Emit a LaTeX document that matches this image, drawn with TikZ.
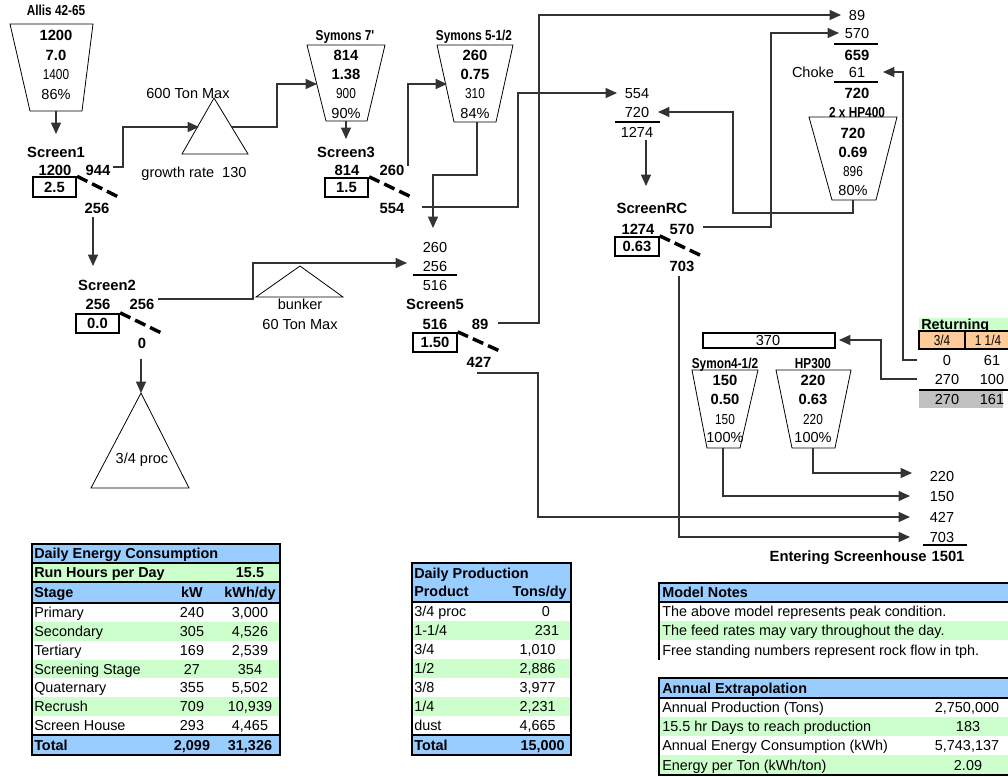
\documentclass[tikz,border=0pt]{standalone}
\usepackage{fontspec}
\setmainfont{Liberation Sans}
\newfontfamily\narrowf[FakeStretch=0.82]{Liberation Sans}
\usetikzlibrary{arrows.meta}
\definecolor{xblue}{RGB}{153,204,255}
\definecolor{xgreen}{RGB}{204,255,204}
\definecolor{xorange}{RGB}{255,204,153}
\definecolor{xgray}{RGB}{192,192,192}
\tikzset{
  t/.style={inner sep=0pt, text height=7.8pt, text depth=0pt, font=\fontsize{10.9}{12}\selectfont},
  tb/.style={t, font=\fontsize{11.1}{12}\selectfont\bfseries},
  tn/.style={t, font=\fontsize{10.8}{12}\selectfont\narrowf},
  tnb/.style={t, font=\fontsize{10.8}{12}\selectfont\narrowf\bfseries},
  tt/.style={inner sep=0pt, text height=7.7pt, text depth=0pt, font=\fontsize{10.8}{12}\selectfont},
  ttb/.style={tt, font=\fontsize{10.8}{12}\selectfont\bfseries},
  trap/.style={draw=black, line width=0.6pt},
  conn/.style={draw=black!80, line width=0.8pt},
  arr/.style={conn, -{Triangle[length=8.5pt,width=7.5pt]}},
  sbox/.style={draw=black, line width=1.5pt, inner sep=0pt, minimum width=32.5pt, minimum height=14.5pt, text height=7.8pt, text depth=0pt, font=\fontsize{11.1}{12}\selectfont\bfseries},
  dsh/.style={draw=black, line width=2.6pt, dash pattern=on 8.5pt off 4pt},
  sumrule/.style={draw=black, line width=1.6pt},
  tline/.style={draw=black, line width=1.5pt},
}
\begin{document}
\begin{tikzpicture}[x=0.75pt,y=-0.75pt]
\useasboundingbox (0,0) rectangle (1008,776);
\fill[white] (0,0) rectangle (1008,776);

% ---------- Allis 42-65 ----------
\node[tnb] (allisL) at (56,10) {Allis 42-65};
\draw[trap] (10,24) -- (93,24) -- (82,111) -- (30,111) -- cycle;
\node[tb] (allis1) at (56,35) {1200};
\node[tb] (allis2) at (56,55) {7.0};
\node[tn] (allis3) at (56,74) {1400};
\node[t] (allis4) at (56,94) {86\%};
\coordinate (allisB) at (56,111);
\coordinate (s1in) at (56,134);
\draw[arr] (allisB) -- (s1in);

% ---------- Screen1 ----------
\node[tb] (s1) at (56,152) {Screen1};
\node[tb] (s1a) at (55,170) {1200};
\node[tb] (s1b) at (98,170) {944};
\node[sbox] (s1box) at (54.5,187) {2.5};
\draw[dsh] (s1box.north east) -- ++(44,22);
\node[tb] (s1c) at (97,208) {256};

% growth triangle
\draw[trap] (214,98) -- (248,154) -- (182,154) -- cycle;
\node[t] (gmax) at (188,93) {600 Ton Max};
\node[t] (grate) at (194,172) {growth rate\ \ 130};
\coordinate (g944) at (113,167);
\coordinate (gin) at (199,127);
\coordinate (gout) at (232,127);
\draw[arr] (g944) -| (123,127) -- (gin);

% ---------- Symons 7' ----------
\node[tnb] (sy7L) at (345,35) {Symons 7'};
\draw[trap] (307,45) -- (385,45) -- (367,121) -- (326,121) -- cycle;
\node[tb] (sy7a) at (346,55) {814};
\node[tb] (sy7b) at (346,74) {1.38};
\node[tn] (sy7c) at (346,93) {900};
\node[t] (sy7d) at (346,113) {90\%};
\coordinate (sy7in) at (317,84);
\draw[arr] (gout) -| (277,84) -- (sy7in);
\coordinate (sy7B) at (346,121);
\coordinate (s3in) at (346,139);
\draw[arr] (sy7B) -- (s3in);

% ---------- Screen3 ----------
\node[tb] (s3) at (346,152) {Screen3};
\node[tb] (s3a) at (347,170) {814};
\node[tb] (s3b) at (392,170) {260};
\node[sbox] (s3box) at (346.5,187.5) {1.5};
\draw[dsh] (s3box.north east) -- ++(44,21);
\node[tb] (s3c) at (392,208) {554};

% ---------- Symons 5-1/2 ----------
\node[tnb] (sy5L) at (474,35) {Symons 5-1/2};
\draw[trap] (437,45) -- (513,45) -- (496,122) -- (454,122) -- cycle;
\node[tb] (sy5a) at (475,55) {260};
\node[tb] (sy5b) at (475,74) {0.75};
\node[tn] (sy5c) at (475,93) {310};
\node[t] (sy5d) at (475,113) {84\%};
\coordinate (s3out) at (408,166);
\coordinate (sy5in) at (447,84);
\draw[arr] (s3out) |- (sy5in);
\coordinate (sy5B) at (477,122);
\coordinate (s5top) at (433,228);
\draw[arr] (sy5B) |- (433,175) -- (s5top);

% ---------- Sum 554/720 ----------
\node[t] (m554) at (637,93) {554};
\node[t] (m720) at (637,112) {720};
\draw[sumrule] (615,122) -- (660,122);
\node[t] (m1274) at (637,132) {1274};
\coordinate (s3o554) at (422,207);
\coordinate (m554in) at (617,93);
\draw[arr] (s3o554) -| (518,93) -- (m554in);
\coordinate (m1274b) at (646,140);
\coordinate (rcin) at (646,186);
\draw[arr] (m1274b) -- (rcin);

% ---------- ScreenRC ----------
\node[tb] (rc) at (652,208) {ScreenRC};
\node[tb] (rca) at (638,229) {1274};
\node[tb] (rcb) at (682,229) {570};
\node[sbox] (rcbox) at (637,246.5) {0.63};
\draw[dsh] (rcbox.north east) -- ++(44,21);
\node[tb] (rcc) at (682,266) {703};

% ---------- Sum 89/570 and HP400 ----------
\node[t] (r89) at (857,15) {89};
\node[t] (r570) at (857,33) {570};
\draw[sumrule] (834,44) -- (878,44);
\node[tb] (r659) at (857,55) {659};
\node[t] (rchoke) at (813,72) {Choke};
\node[t] (r61) at (857,72) {61};
\draw[sumrule] (834,82) -- (878,82);
\node[tb] (r720) at (857,93) {720};
\node[tnb] (hp4L) at (857,112) {2 x HP400};
\draw[trap] (809,117) -- (897,117) -- (876,200) -- (832,200) -- cycle;
\node[tb] (hp4a) at (853,133) {720};
\node[tb] (hp4b) at (853,152) {0.69};
\node[tn] (hp4c) at (853,171) {896};
\node[t] (hp4d) at (853,190) {80\%};
\coordinate (hp4B) at (853,200);
\coordinate (m720in) at (658,112);
\draw[arr] (hp4B) |- (733,213) |- (m720in);
\coordinate (rc570) at (703,227);
\coordinate (r570in) at (839,33);
\draw[arr] (rc570) -| (771,33) -- (r570in);

% ---------- Screen5 ----------
\node[t] (f260) at (435,247) {260};
\node[t] (f256) at (435,266) {256};
\draw[sumrule] (413,275) -- (457,275);
\node[t] (f516) at (435,285) {516};
\node[tb] (s5) at (435,304) {Screen5};
\node[tb] (s5a) at (435,324) {516};
\node[tb] (s5b) at (480,324) {89};
\node[sbox] (s5box) at (435,342.5) {1.50};
\draw[dsh] (s5box.north east) -- ++(44,20);
\node[tb] (s5c) at (479,362) {427};
\coordinate (s5o89) at (498,323);
\coordinate (r89in) at (841,15);
\draw[arr] (s5o89) -| (539,15) -- (r89in);

% ---------- Screen2 ----------
\coordinate (s1o256) at (93,217);
\coordinate (s2in) at (93,266);
\draw[arr] (s1o256) -- (s2in);
\node[tb] (s2) at (107,285) {Screen2};
\node[tb] (s2a) at (98,304) {256};
\node[tb] (s2b) at (142,304) {256};
\node[sbox] (s2box) at (97.5,323.5) {0.0};
\draw[dsh] (s2box.north east) -- ++(43,21);
\node[tb] (s2c) at (142,343) {0};
\coordinate (s2o0) at (141,359);
\coordinate (procTop) at (141,393);
\draw[arr] (s2o0) -- (procTop);
\draw[trap] (procTop) -- (189,488) -- (91,488) -- cycle;
\node[t] (proc) at (142,458) {3/4 proc};

% bunker
\draw[trap] (300,266) -- (343,297) -- (256,297) -- cycle;
\node[t] (bunk) at (300,304) {bunker};
\node[t] (bunkmax) at (300,324) {60 Ton Max};
\coordinate (s2o256) at (158,299);
\coordinate (f256in) at (407,263);
\draw[arr] (s2o256) -| (253,263) -- (f256in);

% ---------- lower right ----------
\node[draw=black, line width=1.5pt, minimum width=99pt, minimum height=11pt, inner sep=0pt] (b370) at (769,340.5) {};
\node[t] (b370t) at (768,340.5) {370};
\node[tnb] (sy4L) at (725,363) {Symon4-1/2};
\draw[trap] (692,370) -- (758,370) -- (740,448) -- (707,448) -- cycle;
\node[tb] (sy4a) at (725,380) {150};
\node[tb] (sy4b) at (725,399) {0.50};
\node[tn] (sy4c) at (725,419) {150};
\node[t] (sy4d) at (725,437) {100\%};
\node[tnb] (hp3L) at (813,363) {HP300};
\draw[trap] (776,370) -- (851,370) -- (835,448) -- (792,448) -- cycle;
\node[tb] (hp3a) at (813,380) {220};
\node[tb] (hp3b) at (813,399) {0.63};
\node[tn] (hp3c) at (813,419) {220};
\node[t] (hp3d) at (813,437) {100\%};

\node[t] (e220) at (942,476) {220};
\node[t] (e150) at (942,496) {150};
\node[t] (e427) at (942,517) {427};
\node[t] (e703) at (942,537) {703};
\draw[sumrule] (923,545) -- (967,545);
\node[tb, anchor=east] (entL) at (927,556) {Entering Screenhouse};
\node[tb] (e1501) at (948,556) {1501};

\coordinate (sy4B) at (723,448);
\coordinate (hp3B) at (813,448);
\draw[arr] (sy4B) |- (910,496);
\draw[arr] (hp3B) |- (912,473);
\coordinate (s5o427) at (477,373);
\draw[arr] (s5o427) -| (538,517) -- (910,517);
\coordinate (rco703) at (679,276);
\draw[arr] (rco703) |- (910,537);

% Returning table
\fill[xgreen] (919,318) rectangle (1008,331);
\fill[xorange] (919,331) rectangle (1008,349);
\node[ttb, anchor=west] (retL) at (921,324.5) {Returning};
\draw[tline] (1010,331) -- (919,331) -- (919,349) -- (1010,349);
\draw[tline] (965,331) -- (965,349);
\node[tn] (ret34) at (942,340.5) {3/4};
\node[tn] (ret114) at (988,340.5) {1 1/4};
\node[t] (ret0) at (947,360) {0};
\node[t] (ret61) at (992,360) {61};
\node[t] (ret270) at (947,379) {270};
\node[t] (ret100) at (992,379) {100};
\fill[xgray] (919,391) rectangle (1003,408);
\draw[tline] (919,390) -- (1008,390);
\node[t] (ret270b) at (947,399.5) {270};
\node[t] (ret161) at (992,399.5) {161};
\coordinate (retA) at (917,360);
\coordinate (r61in) at (883,72);
\draw[arr] (retA) -| (903,72) -- (r61in);
\coordinate (retB) at (917,379);
\coordinate (b370in) at (839,340);
\draw[arr] (retB) -| (881,340) -- (b370in);

% ---------- Daily Energy Consumption table ----------
\fill[xblue] (32,544) rectangle (280,563);
\fill[xgreen] (32,563) rectangle (280,582);
\fill[xblue] (32,582) rectangle (280,603);
\foreach \i in {1,3,5} \fill[xgreen] (32,{603+\i*18.857}) rectangle (280,{603+(\i+1)*18.857});
\fill[xblue] (32,735) rectangle (280,755);
\draw[tline] (32,544) rectangle (280,755);
\foreach \y in {563,582,603,735} \draw[tline] (32,\y) -- (280,\y);
\node[ttb, anchor=west] (enT) at (34,553.5) {Daily Energy Consumption};
\node[ttb, anchor=west] (enR) at (34,572.5) {Run Hours per Day};
\node[ttb] (enRv) at (250,572.5) {15.5};
\node[ttb, anchor=west] (enS) at (34,592.5) {Stage};
\node[ttb] (enK) at (192,592.5) {kW};
\node[ttb] (enKh) at (250,592.5) {kWh/dy};
\foreach \n/\a/\b [count=\i from 0] in {Primary/240/{3,000}, Secondary/305/{4,526}, Tertiary/169/{2,539}, Screening Stage/27/354, Quaternary/355/{5,502}, Recrush/709/{10,939}, Screen House/293/{4,465}} {
  \node[tt, anchor=west] (en\i n) at (34,{612.4+\i*18.857}) {\n};
  \node[tt] (en\i a) at (192,{612.4+\i*18.857}) {\a};
  \node[tt] (en\i b) at (250,{612.4+\i*18.857}) {\b};
}
\node[ttb, anchor=west] (enTot) at (34,745) {Total};
\node[ttb] (enTa) at (192,745) {2,099};
\node[ttb] (enTb) at (250,745) {31,326};

% ---------- Daily Production table ----------
\fill[xblue] (412,563) rectangle (571,602);
\foreach \i in {1,3,5} \fill[xgreen] (412,{602+\i*19}) rectangle (571,{602+(\i+1)*19});
\fill[xblue] (412,735) rectangle (571,755);
\draw[tline] (412,563) rectangle (571,755);
\draw[tline] (412,602) -- (571,602);
\draw[tline] (412,735) -- (571,735);
\node[ttb, anchor=west] (prT) at (414,573) {Daily Production};
\node[ttb, anchor=west] (prP) at (414,591.5) {Product};
\node[ttb, anchor=east] (prTd) at (567,591.5) {Tons/dy};
\node[tt, anchor=west] (pr0n) at (414,611.5) {3/4 proc};
\node[tt] (pr0v) at (546,611.5) {0};
\node[tt, anchor=west] (pr1n) at (414,630.5) {1-1/4};
\node[tt] (pr1v) at (547,630.5) {231};
\node[tt, anchor=west] (pr2n) at (414,649.5) {3/4};
\node[tt, anchor=east] (pr2v) at (556,649.5) {1,010};
\node[tt, anchor=west] (pr3n) at (414,668.5) {1/2};
\node[tt, anchor=east] (pr3v) at (556,668.5) {2,886};
\node[tt, anchor=west] (pr4n) at (414,687.5) {3/8};
\node[tt, anchor=east] (pr4v) at (556,687.5) {3,977};
\node[tt, anchor=west] (pr5n) at (414,706.5) {1/4};
\node[tt, anchor=east] (pr5v) at (556,706.5) {2,231};
\node[tt, anchor=west] (pr6n) at (414,725.5) {dust};
\node[tt, anchor=east] (pr6v) at (556,725.5) {4,665};
\node[ttb, anchor=west] (prTot) at (414,745) {Total};
\node[ttb, anchor=east] (prTotv) at (565,745) {15,000};

% ---------- Model Notes ----------
\fill[xblue] (659,583) rectangle (1010,602);
\fill[xgreen] (659,621) rectangle (1010,640);
\draw[tline] (1010,583) -- (659,583) -- (659,660);
\draw[tline] (659,602) -- (1010,602);
\node[ttb, anchor=west] (mnT) at (662,592.5) {Model Notes};
\node[tt, anchor=west] (mn1) at (662,611.5) {The above model represents peak condition.};
\node[tt, anchor=west] (mn2) at (662,630.5) {The feed rates may vary throughout the day.};
\node[tt, anchor=west] (mn3) at (662,650) {Free standing numbers represent rock flow in tph.};

% ---------- Annual Extrapolation ----------
\fill[xblue] (659,678) rectangle (1010,698);
\fill[xgreen] (659,717) rectangle (1010,736);
\fill[xgreen] (659,755) rectangle (1010,775);
\draw[tline] (1010,678) -- (659,678) -- (659,775) -- (1010,775);
\draw[tline] (659,698) -- (1010,698);
\node[ttb, anchor=west] (aeT) at (662,688) {Annual Extrapolation};
\node[tt, anchor=west] (ae1) at (662,707.5) {Annual Production (Tons)};
\node[tt] (ae1v) at (967,707.5) {2,750,000};
\node[tt, anchor=west] (ae2) at (662,726.5) {15.5 hr Days to reach production};
\node[tt] (ae2v) at (968,726.5) {183};
\node[tt, anchor=west] (ae3) at (662,745.5) {Annual Energy Consumption (kWh)};
\node[tt] (ae3v) at (967,745.5) {5,743,137};
\node[tt, anchor=west] (ae4) at (662,765) {Energy per Ton (kWh/ton)};
\node[tt] (ae4v) at (968,765) {2.09};
\end{tikzpicture}
\end{document}
